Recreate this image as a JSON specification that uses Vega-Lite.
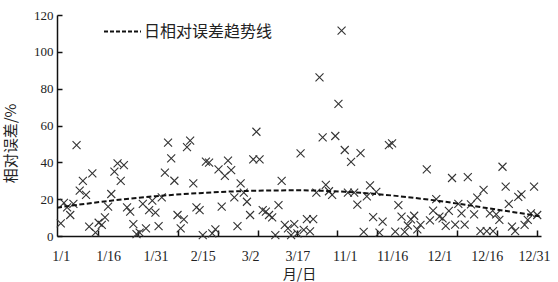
{
  "$schema": "https://vega.github.io/schema/vega-lite/v6.json",
  "width": 484,
  "height": 221,
  "autosize": "none",
  "padding": {"left": 57, "top": 15, "right": 17, "bottom": 46},
  "background": "white",
  "config": {
    "view": {"stroke": null},
    "axis": {
      "grid": false,
      "domainColor": "#111",
      "domainWidth": 1.5,
      "tickColor": "#111",
      "tickWidth": 1.5,
      "labelFont": "Liberation Serif",
      "labelFontSize": 13,
      "labelColor": "#222",
      "labelOverlap": false,
      "titleFont": "Noto Sans CJK SC",
      "titleFontWeight": "normal",
      "titleFontSize": 14,
      "titleColor": "#222"
    }
  },
  "datasets": {
    "pts": [
      {"day": 0, "err": 6.9}, {"day": 1, "err": 18.0}, {"day": 2, "err": 15.6}, {"day": 3, "err": 11.4},
      {"day": 4, "err": 17.4}, {"day": 5, "err": 49.4}, {"day": 6, "err": 24.6}, {"day": 7, "err": 29.9},
      {"day": 8, "err": 22.3}, {"day": 9, "err": 5.1}, {"day": 10, "err": 34.0}, {"day": 11, "err": 1.8},
      {"day": 12, "err": 7.2}, {"day": 13, "err": 6.0}, {"day": 14, "err": 10.1}, {"day": 15, "err": 15.9},
      {"day": 16, "err": 22.8}, {"day": 17, "err": 34.9}, {"day": 18, "err": 39.4}, {"day": 19, "err": 29.9},
      {"day": 20, "err": 38.5}, {"day": 21, "err": 15.6}, {"day": 22, "err": 13.2}, {"day": 23, "err": 6.5},
      {"day": 24, "err": 1.0}, {"day": 25, "err": 1.8}, {"day": 26, "err": 17.4}, {"day": 27, "err": 4.2},
      {"day": 28, "err": 14.1}, {"day": 29, "err": 19.2}, {"day": 30, "err": 12.7}, {"day": 31, "err": 5.4},
      {"day": 32, "err": 21.0}, {"day": 33, "err": 34.4}, {"day": 34, "err": 50.7}, {"day": 35, "err": 42.2},
      {"day": 36, "err": 30.0}, {"day": 37, "err": 11.4}, {"day": 38, "err": 4.2}, {"day": 39, "err": 9.0},
      {"day": 40, "err": 48.2}, {"day": 41, "err": 51.8}, {"day": 42, "err": 28.6}, {"day": 43, "err": 15.6},
      {"day": 44, "err": 14.1}, {"day": 45, "err": 0.5}, {"day": 46, "err": 40.4}, {"day": 47, "err": 39.8},
      {"day": 48, "err": 1.4}, {"day": 49, "err": 3.6}, {"day": 50, "err": 36.2}, {"day": 51, "err": 15.9},
      {"day": 52, "err": 32.6}, {"day": 53, "err": 40.9}, {"day": 54, "err": 35.8}, {"day": 55, "err": 21.0},
      {"day": 56, "err": 5.4}, {"day": 57, "err": 28.6}, {"day": 58, "err": 23.5}, {"day": 59, "err": 18.6},
      {"day": 60, "err": 11.4}, {"day": 61, "err": 41.6}, {"day": 62, "err": 56.6}, {"day": 63, "err": 41.6},
      {"day": 64, "err": 14.1}, {"day": 65, "err": 13.2}, {"day": 66, "err": 11.4}, {"day": 67, "err": 10.1},
      {"day": 68, "err": 0.5}, {"day": 69, "err": 16.8}, {"day": 70, "err": 29.9}, {"day": 71, "err": 6.0},
      {"day": 72, "err": 4.2}, {"day": 73, "err": 0.5}, {"day": 74, "err": 6.5}, {"day": 75, "err": 1.4},
      {"day": 76, "err": 44.9}, {"day": 77, "err": 3.3}, {"day": 78, "err": 9.2}, {"day": 79, "err": 2.5},
      {"day": 80, "err": 9.2}, {"day": 81, "err": 23.5}, {"day": 82, "err": 86.1}, {"day": 83, "err": 53.5},
      {"day": 84, "err": 27.8}, {"day": 85, "err": 24.3}, {"day": 86, "err": 22.3}, {"day": 87, "err": 54.3},
      {"day": 88, "err": 71.7}, {"day": 89, "err": 111.5}, {"day": 90, "err": 46.7}, {"day": 91, "err": 23.6},
      {"day": 92, "err": 40.3}, {"day": 93, "err": 23.6}, {"day": 94, "err": 17.0}, {"day": 95, "err": 45.0},
      {"day": 96, "err": 2.2}, {"day": 97, "err": 21.5}, {"day": 98, "err": 27.5}, {"day": 99, "err": 10.3},
      {"day": 100, "err": 24.0}, {"day": 101, "err": 1.8}, {"day": 102, "err": 7.8}, {"day": 104, "err": 49.4},
      {"day": 105, "err": 50.3}, {"day": 106, "err": 2.4}, {"day": 107, "err": 16.8}, {"day": 108, "err": 10.5},
      {"day": 109, "err": 2.2}, {"day": 110, "err": 5.7}, {"day": 111, "err": 9.0}, {"day": 112, "err": 11.0},
      {"day": 113, "err": 3.6}, {"day": 114, "err": 6.0}, {"day": 116, "err": 36.2}, {"day": 117, "err": 8.5},
      {"day": 118, "err": 13.8}, {"day": 119, "err": 20.0}, {"day": 120, "err": 10.5}, {"day": 121, "err": 9.6},
      {"day": 122, "err": 5.5}, {"day": 123, "err": 13.6}, {"day": 124, "err": 31.5}, {"day": 125, "err": 6.2},
      {"day": 126, "err": 17.4}, {"day": 127, "err": 12.3}, {"day": 128, "err": 6.2}, {"day": 129, "err": 32.0},
      {"day": 130, "err": 17.2}, {"day": 131, "err": 11.8}, {"day": 132, "err": 20.8}, {"day": 133, "err": 2.7},
      {"day": 134, "err": 25.0}, {"day": 135, "err": 2.7}, {"day": 136, "err": 12.3}, {"day": 137, "err": 2.7},
      {"day": 138, "err": 11.8}, {"day": 139, "err": 8.7}, {"day": 140, "err": 37.6}, {"day": 141, "err": 26.8},
      {"day": 142, "err": 17.4}, {"day": 143, "err": 5.1}, {"day": 144, "err": 2.7}, {"day": 145, "err": 21.3},
      {"day": 146, "err": 22.6}, {"day": 147, "err": 6.0}, {"day": 148, "err": 8.7}, {"day": 149, "err": 12.3},
      {"day": 150, "err": 26.8}, {"day": 151, "err": 11.4}
    ],
    "trend": [
      {"day": -1.2, "err": 15.4, "name": "日相对误差趋势线"},
      {"day": 15, "err": 19.0, "name": "日相对误差趋势线"},
      {"day": 30, "err": 21.6, "name": "日相对误差趋势线"},
      {"day": 45, "err": 23.4, "name": "日相对误差趋势线"},
      {"day": 60, "err": 24.5, "name": "日相对误差趋势线"},
      {"day": 75, "err": 24.8, "name": "日相对误差趋势线"},
      {"day": 90, "err": 24.0, "name": "日相对误差趋势线"},
      {"day": 105, "err": 22.0, "name": "日相对误差趋势线"},
      {"day": 120, "err": 19.0, "name": "日相对误差趋势线"},
      {"day": 135, "err": 15.2, "name": "日相对误差趋势线"},
      {"day": 152, "err": 10.7, "name": "日相对误差趋势线"}
    ]
  },
  "layer": [
    {
      "data": {"name": "pts"},
      "mark": {
        "type": "point",
        "shape": "M-1,-1L1,1M-1,1L1,-1",
        "filled": false,
        "size": 64,
        "stroke": "#333",
        "strokeWidth": 1.1,
        "opacity": 1
      },
      "encoding": {
        "x": {
          "field": "day",
          "type": "quantitative",
          "scale": {"domain": [-1.2, 152.2], "nice": false, "zero": false},
          "axis": {
            "orient": "bottom",
            "values": [0, 15, 30, 45, 60, 75, 90, 105, 120, 135, 150],
            "tickCount": 11,
            "labelExpr": "['1/1','1/16','1/31','2/15','3/2','3/17','11/1','11/16','12/1','12/16','12/31'][round(datum.value/15)]",
            "ticks": false,
            "domain": true,
            "labelPadding": 13,
            "labelFontSize": 14,
            "title": "月/日",
            "titlePadding": 4
          }
        },
        "y": {
          "field": "err",
          "type": "quantitative",
          "scale": {"domain": [0, 120], "nice": false},
          "axis": {
            "orient": "left",
            "values": [0, 20, 40, 60, 80, 100, 120],
            "tickCount": 7,
            "labelOverlap": false,
            "ticks": false,
            "domain": true,
            "grid": true,
            "gridColor": "#111",
            "gridWidth": 1.5,
            "gridDash": [5, 3000],
            "labelPadding": 4,
            "title": "相对误差/%",
            "titleX": -39,
            "titleY": 128,
            "titleFontSize": 15
          }
        }
      }
    },
    {
      "data": {"name": "trend"},
      "mark": {"type": "line", "strokeWidth": 2, "strokeDash": [5, 2.5], "interpolate": "monotone"},
      "encoding": {
        "x": {
          "field": "day",
          "type": "quantitative",
          "axis": {
            "orient": "bottom",
            "values": [11.7, 24.4, 37.1, 49.8, 62.4, 75.0, 87.6, 100.3, 112.9, 125.6, 138.3, 151.0],
            "tickCount": 12,
            "labels": false,
            "ticks": false,
            "grid": true,
            "gridColor": "#111",
            "gridWidth": 1.5,
            "gridDash": [0, 215, 6, 3000],
            "domain": false,
            "title": null
          }
        },
        "y": {
          "field": "err",
          "type": "quantitative"
        },
        "color": {
          "field": "name",
          "type": "nominal",
          "scale": {"range": ["#111"]},
          "legend": {
            "orient": "none",
            "legendX": 46,
            "legendY": -3,
            "title": null,
            "symbolType": "stroke",
            "symbolDash": [4, 2],
            "symbolStrokeWidth": 2,
            "symbolSize": 1369,
            "labelFont": "Noto Sans CJK SC",
            "labelFontSize": 16,
            "labelColor": "#222",
            "labelOffset": 2,
            "padding": 0
          }
        }
      }
    }
  ],
  "resolve": {"axis": {"x": "independent"}}
}
